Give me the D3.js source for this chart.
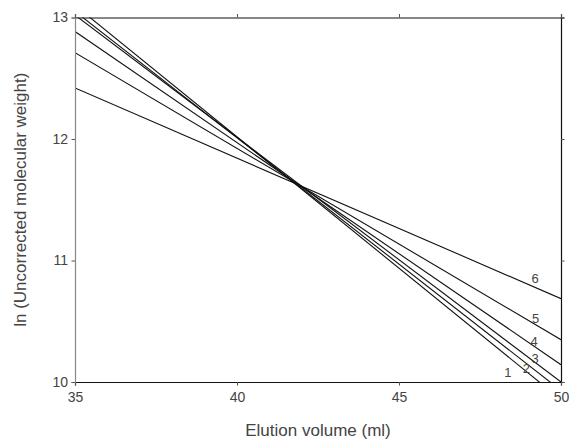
<!DOCTYPE html>
<html>
<head>
<meta charset="utf-8">
<script src="https://cdn.jsdelivr.net/npm/d3@7"></script>
<style>
  html, body { margin: 0; padding: 0; background: #fff; }
  svg { display: block; }
  text { font-family: "Liberation Sans", Arial, sans-serif; fill: #444; }
</style>
</head>
<body>
<svg id="chart" width="569" height="444"></svg>
<script>
// Calibration lines: ln(uncorrected MW) at the two ends of the elution range
const seriesLabels = ["1", "2", "3", "4", "5", "6"];
const elutionStart = 35;
const elutionEnd = 50;
const lnMwAtStart = [13.10, 13.05, 13.02, 12.885, 12.71, 12.42];
const lnMwAtEnd   = [9.855, 9.93, 10.0, 10.142, 10.348, 10.686];
// Label anchor positions (data units) for each line's number
const labelX = [48.36, 48.93, 49.2, 49.17, 49.22, 49.2];
const labelY = [10.04, 10.075, 10.16, 10.295, 10.486, 10.815];

const xTicks = [35, 40, 45, 50];
const yTicks = [10, 11, 12, 13];

const W = 569, H = 444;
const m = { left: 75, right: 8, top: 17.5, bottom: 62 };
const svg = d3.select("#chart");

const x = d3.scaleLinear().domain([35, 50]).range([m.left, W - m.right]);
const y = d3.scaleLinear().domain([10, 13]).range([H - m.bottom, m.top]);

svg.append("defs").append("clipPath").attr("id", "plot")
  .append("rect")
  .attr("x", x(35)).attr("y", y(13))
  .attr("width", x(50) - x(35)).attr("height", y(10) - y(13));

// Lines
const lineGen = d3.line().x(d => x(d[0])).y(d => y(d[1]));
const series = seriesLabels.map((s, i) => ({
  label: s,
  pts: [[elutionStart, lnMwAtStart[i]], [elutionEnd, lnMwAtEnd[i]]]
}));
svg.append("g").attr("clip-path", "url(#plot)")
  .selectAll("path").data(series).join("path")
  .attr("d", d => lineGen(d.pts))
  .attr("fill", "none").attr("stroke", "#111").attr("stroke-width", 1.1);

// Axes (ticks outward)
const minorX = d3.range(35, 50.01, 1);
const minorY = d3.range(10, 13.001, 0.2);

function frame(axisFn, scale, transform, majors, minors, showLabels, stroke) {
  const g = svg.append("g").attr("transform", transform);
  g.call(axisFn(scale).tickValues(minors).tickSize(2.5).tickFormat(""));
  g.call(axisFn(scale).tickValues(majors).tickSize(3.5)
    .tickFormat(showLabels ? d3.format("d") : ""));
  g.selectAll(".domain").attr("stroke", stroke).attr("stroke-width", 1.2);
  g.selectAll(".tick line").attr("stroke", "#555");
  g.selectAll(".tick text").attr("font-size", 14).attr("fill", "#444")
    .attr("font-family", "Liberation Sans, Arial, sans-serif");
  return g;
}
const gx = frame(d3.axisBottom, x, `translate(0,${y(10)})`, xTicks, minorX, true, "#111");
gx.selectAll(".tick text").attr("dy", "0.95em");
frame(d3.axisTop, x, `translate(0,${y(13)})`, xTicks, minorX, false, "#111");
const gy = frame(d3.axisLeft, y, `translate(${x(35)},0)`, yTicks, minorY, true, "#888");
gy.selectAll(".tick text").attr("x", -7);
frame(d3.axisRight, y, `translate(${x(50)},0)`, yTicks, minorY, false, "#111");

// Line numbers
svg.append("g").selectAll("text").data(series).join("text")
  .attr("x", (d, i) => x(labelX[i]))
  .attr("y", (d, i) => y(labelY[i]))
  .attr("text-anchor", "middle")
  .attr("font-size", 13)
  .text(d => d.label);

// Axis titles
svg.append("text")
  .attr("x", (x(35) + x(50)) / 2).attr("y", 436)
  .attr("text-anchor", "middle").attr("font-size", 17)
  .text("Elution volume (ml)");
svg.append("text")
  .attr("transform", `translate(26,${(y(10) + y(13)) / 2}) rotate(-90)`)
  .attr("text-anchor", "middle").attr("font-size", 17)
  .text("ln (Uncorrected molecular weight)");
</script>
</body>
</html>
